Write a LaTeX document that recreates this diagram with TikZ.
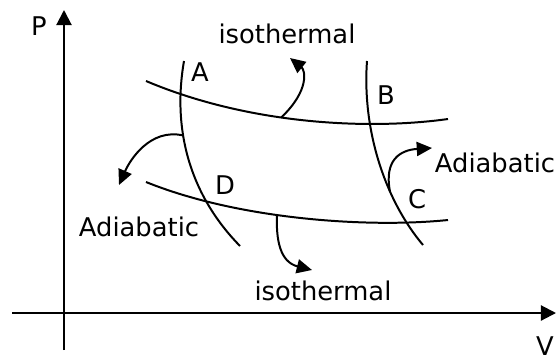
\documentclass[tikz,border=0pt]{standalone}
\usepackage{fontspec}
\setmainfont{DejaVu Sans}
\usetikzlibrary{arrows.meta}

\begin{document}
\begin{tikzpicture}[
		x=0.03cm, y=-0.03cm,
		curve/.style={line width=1.7pt},
		axis/.style={line width=1.8pt, -{Triangle[length=13pt, width=13pt]}},
		arrow/.style={line width=1.7pt, -{Triangle[length=13pt, width=12pt]}},
		lbl/.style={anchor=base, inner sep=0pt, font=\fontsize{22}{26}\selectfont}
		]
		\useasboundingbox (0,0) rectangle (558,354);
		
		\coordinate (ybot) at (64,350);
		\coordinate (ytop) at (64,10);
		\coordinate (xleft) at (12,313);
		\coordinate (xright) at (556,313);
		\draw[axis] (ybot) -- (ytop);
		\draw[axis] (xleft) -- (xright);
		
		\node[lbl] (plabel) at (39,35) {P};
		\node[lbl] (vlabel) at (545,355) {V};
		
		% isothermals
		\draw[curve] (146,81) .. controls (250,125) and (370,130) .. (448,119)
			coordinate[pos=0.42] (isoup);
		\draw[curve] (146,182) .. controls (240,220) and (370,228) .. (448,220)
			coordinate[pos=0.42] (isolow);
		
		% adiabatics
		\draw[curve] (184,61) .. controls (172,130) and (190,195) .. (240,246)
			coordinate[pos=0.37] (adleft);
		\draw[curve] (367,61) .. controls (362,130) and (385,200) .. (423,245)
			coordinate[pos=0.66] (adright);
		
		\node[lbl] (a) at (200,81) {A};
		\node[lbl] (b) at (386,104) {B};
		\node[lbl] (c) at (417,208) {C};
		\node[lbl] (d) at (225,194) {D};
		
		\node[lbl] (isotop) at (287,43) {isothermal};
		\node[lbl] (isobot) at (323,300) {isothermal};
		\node[lbl] (adiright) at (495,172) {Adiabatic};
		\node[lbl] (adileft) at (139,236) {Adiabatic};
		
		\coordinate (tipup) at (290,58);
		\coordinate (tiplow) at (312,270);
		\coordinate (tipleft) at (119,185);
		\coordinate (tipright) at (432,148);
		
		\draw[arrow] (isoup) .. controls (310,90) and (305,70) .. (tipup);
		\draw[arrow] (isolow) .. controls (276,240) and (280,262) .. (tiplow);
		\draw[arrow] (adleft) .. controls (150,128) and (130,160) .. (tipleft);
		\draw[arrow] (adright) .. controls (384,160) and (400,150) .. (tipright);
		
	\end{tikzpicture}
\end{document}
